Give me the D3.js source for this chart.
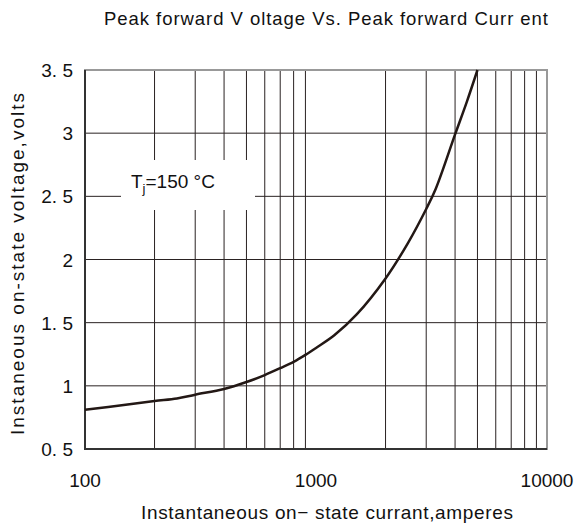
<!DOCTYPE html>
<html>
<head>
<meta charset="utf-8">
<script src="https://cdn.jsdelivr.net/npm/d3@7"></script>
<style>
  body { margin: 0; background: #fff; }
  text { font-family: "Liberation Sans", Arial, sans-serif; fill: #111; }
</style>
</head>
<body>
<script>
// data
let current = [100, 150, 200, 250, 300, 400, 500, 600, 700, 800, 900, 1000, 1200, 1500, 2000, 2500, 3000, 3300, 4000, 4500, 5000];
let voltage = [0.81, 0.85, 0.88, 0.9, 0.93, 0.975, 1.03, 1.085, 1.14, 1.19, 1.245, 1.3, 1.4, 1.565, 1.85, 2.13, 2.4, 2.56, 2.99, 3.25, 3.5];

let yTicks = [0.5, 1, 1.5, 2, 2.5, 3, 3.5];
let yTickLabels = ["0. 5", "1", "1. 5", "2", "2. 5", "3", "3. 5"];
let xTicks = [100, 1000, 10000];
let xGrid = [200, 300, 400, 500, 600, 700, 800, 900, 2000, 3000, 4000, 5000, 6000, 7000, 8000, 9000];

let opts = { width: 580, height: 529, left: 85, right: 547, top: 70, bottom: 449 };

let svg = d3.select("body").append("svg")
    .attr("width", opts.width)
    .attr("height", opts.height);

let x = d3.scaleLog().domain([100, 10000]).range([opts.left, opts.right]);
let y = d3.scaleLinear().domain([0.5, 3.5]).range([opts.bottom, opts.top]);

// grid
svg.append("g").selectAll("line")
    .data(xGrid)
    .enter().append("line")
    .attr("x1", d => x(d)).attr("x2", d => x(d))
    .attr("y1", opts.top).attr("y2", opts.bottom)
    .attr("stroke", "#2a2222").attr("stroke-width", 1);

svg.append("g").selectAll("line")
    .data(yTicks.slice(1, -1))
    .enter().append("line")
    .attr("x1", opts.left).attr("x2", opts.right)
    .attr("y1", d => y(d)).attr("y2", d => y(d))
    .attr("stroke", "#2a2222").attr("stroke-width", 1);

// frame
svg.append("rect")
    .attr("x", opts.left).attr("y", opts.top)
    .attr("width", opts.right - opts.left).attr("height", opts.bottom - opts.top)
    .attr("fill", "none").attr("stroke", "#999").attr("stroke-width", 2);
svg.append("path")
    .attr("d", `M${opts.left},${opts.top}V${opts.bottom}H${opts.right}`)
    .attr("fill", "none").attr("stroke", "#333").attr("stroke-width", 2);

// label box covering grid
svg.append("rect")
    .attr("x", 121).attr("y", 160)
    .attr("width", 134).attr("height", 50)
    .attr("fill", "#fff");

let lbl = svg.append("text")
    .attr("x", 131).attr("y", 188)
    .attr("font-size", 19);
lbl.append("tspan").text("T");
lbl.append("tspan").attr("dy", 5).attr("font-size", 13).text("j");
lbl.append("tspan").attr("dy", -5).text("=150 °C");

// curve
let line = d3.line()
    .x((d, i) => x(current[i]))
    .y(d => y(d))
    .curve(d3.curveCatmullRom);

svg.append("path")
    .datum(voltage)
    .attr("d", line)
    .attr("fill", "none")
    .attr("stroke", "#231815")
    .attr("stroke-width", 2.5);

// tick labels
svg.append("g").selectAll("text")
    .data(yTicks)
    .enter().append("text")
    .attr("x", 73).attr("y", d => y(d) + 7)
    .attr("text-anchor", "end")
    .attr("font-size", 19)
    .text((d, i) => yTickLabels[i]);

svg.append("g").selectAll("text")
    .data(xTicks)
    .enter().append("text")
    .attr("x", d => x(d)).attr("y", 487)
    .attr("text-anchor", "middle")
    .attr("font-size", 19)
    .text(d => d);

// titles
svg.append("text")
    .attr("x", 104).attr("y", 25)
    .attr("font-size", 18.5)
    .attr("textLength", 444).attr("lengthAdjust", "spacing")
    .text("Peak forward V oltage  Vs. Peak forward Curr ent");

svg.append("text")
    .attr("x", 141).attr("y", 519)
    .attr("font-size", 19)
    .attr("textLength", 372).attr("lengthAdjust", "spacing")
    .text("Instantaneous on− state currant,amperes");

svg.append("text")
    .attr("transform", "translate(24,435) rotate(-90)")
    .attr("font-size", 19)
    .attr("textLength", 342).attr("lengthAdjust", "spacing")
    .text("Instaneous on-state voltage,volts");
</script>
</body>
</html>
